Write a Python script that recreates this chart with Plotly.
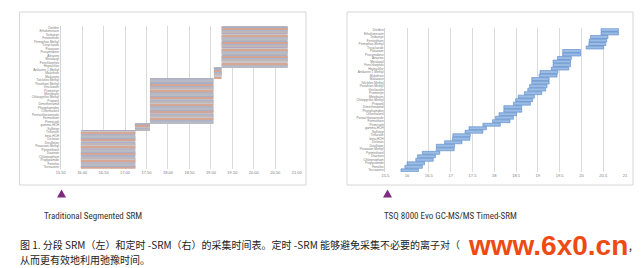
import plotly.graph_objects as go

W, H = 642, 268

compounds = ["Dieldrin", "Ethofumesate", "Terbutryn", "Fenitrothion", "Pirimiphos Methyl",
             "Tricyclazole", "Paraoxon", "Procymidone", "Atrazine", "Metalaxyl",
             "Fenchlorphos", "Heptachlor", "Anilazine 1 Methyl", "Malathion", "Malaoxon",
             "Tolclofos Methyl", "Parathion Methyl", "Vinclozolin", "Prometryn", "Metribuzin",
             "Chlorpyrifos Methyl", "Propanil", "Dimethenamid", "Phosphamidon", "Chlorthalonil",
             "Pentachloroanisole", "Formothion", "Pirimicarb", "gamma-HCH", "Sulfotep",
             "Trifluralin", "beta-HCH", "Dicloran", "Disulfoton", "Paraoxon Methyl",
             "Pyrimethanil", "Diazinon", "Chlorpropham", "Propyzamide", "Fonofos", "Tecnazene"]

# Traditional segmented SRM: acquisition window per compound (min)
seg_start = [19.25]*12 + [19.07]*3 + [17.58]*13 + [17.23]*2 + [15.97]*11
seg_end = [20.79]*12 + [19.25]*3 + [19.06]*13 + [17.58]*2 + [17.24]*11

# Timed-SRM: acquisition window per compound (min)
tsrm_start = [20.45, 20.45, 20.21, 20.18, 20.17, 20.11, 19.57, 19.57, 19.45, 19.35,
              19.35, 19.31, 19.05, 19.03, 18.86, 18.86, 18.81, 18.77, 18.69, 18.55,
              18.49, 18.44, 18.22, 18.22, 18.11, 18.03, 17.96, 17.74, 17.42, 17.33,
              17.05, 17.04, 16.86, 16.67, 16.67, 16.35, 16.24, 16.20, 16.00, 15.95, 15.86]
tsrm_end = [20.85, 20.85, 20.61, 20.58, 20.56, 20.51, 19.98, 19.98, 19.77, 19.75,
            19.75, 19.71, 19.46, 19.44, 19.26, 19.26, 19.21, 19.18, 19.09, 18.92,
            18.88, 18.83, 18.63, 18.63, 18.51, 18.44, 18.36, 18.14, 17.82, 17.74,
            17.45, 17.44, 17.26, 17.09, 17.08, 16.75, 16.65, 16.60, 16.40, 16.35, 16.26]

left_ticks = [15.5, 16.0, 16.5, 17.0, 17.5, 18.0, 18.5, 19.0, 19.5, 20.0, 20.5, 21.0]
left_ticktext = ["15.50", "16.00", "16.50", "17.00", "17.50", "18.00", "18.50",
                 "19.00", "19.50", "20.00", "20.50", "21.00"]
right_ticktext = ["15.5", "16", "16.5", "17", "17.5", "18", "18.5", "19", "19.5", "20", "20.5", "21"]

rows = list(range(len(compounds)))

stripe_palette = ["#b9b4bb", "#a9aec4", "#d4a595", "#c2bcc6", "#aab3cb", "#bfb6b8",
                  "#b3a9c2", "#c9c4c7", "#d6a894", "#a8b3cc", "#bbb3bf", "#b7bcc4"]


def px(x):
    return x / W


def py(y):
    return 1 - y / H


fig = go.Figure()

n_str = 3
for s in range(n_str):
    cols = [stripe_palette[(r * n_str + s) % len(stripe_palette)] for r in rows]
    fig.add_trace(go.Bar(
        y=rows, x=[e - b for b, e in zip(seg_start, seg_end)], base=seg_start,
        orientation="h", width=1.0 / n_str, offset=-0.5 + s / n_str,
        marker=dict(color=cols, line=dict(width=0)),
        xaxis="x", yaxis="y", showlegend=False, hoverinfo="skip"))

fig.add_trace(go.Bar(
    y=rows, x=[e - b for b, e in zip(tsrm_start, tsrm_end)], base=tsrm_start,
    orientation="h", width=0.85,
    marker=dict(color="#9bbce4", line=dict(color="#5284c6", width=0.6)),
    xaxis="x2", yaxis="y2", showlegend=False, hoverinfo="skip"))

common_x = dict(range=[15.5, 21], tickvals=left_ticks, showgrid=True, gridcolor="#dadada",
                gridwidth=1, zeroline=False, showline=False, ticks="",
                tickfont=dict(size=4, color="#7a7a7a", family="Liberation Sans"))
common_y = dict(range=[40.5, -0.5], tickvals=rows, ticktext=compounds, showgrid=False,
                zeroline=False, showline=True, linecolor="#d4d4d4", linewidth=1, ticks="",
                automargin=False,
                tickfont=dict(size=3.2, color="#7a7a7a", family="Liberation Sans"))

fig.update_layout(
    width=W, height=H, autosize=False,
    margin=dict(l=0, r=0, t=0, b=0),
    paper_bgcolor="white", plot_bgcolor="white",
    barmode="overlay",
    xaxis=dict(domain=[px(60.7), px(296.7)], anchor="y", ticktext=left_ticktext,
               automargin=False, **common_x),
    yaxis=dict(domain=[py(168.7), py(26)], anchor="x", **common_y),
    xaxis2=dict(domain=[px(385.3), px(625)], anchor="y2", ticktext=right_ticktext,
                automargin=False, **common_x),
    yaxis2=dict(domain=[py(172.1), py(28.2)], anchor="x2", **common_y),
)

shapes = []
for x0, x1 in [(19.5, 306), (347, 633)]:
    shapes.append(dict(type="rect", xref="paper", yref="paper",
                       x0=px(x0), x1=px(x1), y0=py(185), y1=py(12),
                       line=dict(color="#d6d6d6", width=1), fillcolor="rgba(0,0,0,0)", layer="below"))
for cx in [61.5, 387.5]:
    path = "M {} {} L {} {} L {} {} Z".format(px(cx - 4.5), py(197.5), px(cx + 4.5), py(197.5),
                                               px(cx), py(189.5))
    shapes.append(dict(type="path", xref="paper", yref="paper", path=path,
                       fillcolor="#7d2a7f", line=dict(width=0)))
fig.update_layout(shapes=shapes)

narrow = "Liberation Sans Narrow, Arial Narrow, Roboto Condensed, Roboto, sans-serif"
cjk = "Noto Sans CJK SC, sans-serif"
ann = [
    dict(x=px(42), y=py(215.5), text="Traditional Segmented SRM",
         font=dict(family=narrow, size=9, color="#333333")),
    dict(x=px(382), y=py(215.5), text="TSQ 8000 Evo GC-MS/MS Timed-SRM",
         font=dict(family=narrow, size=9, color="#333333")),
    dict(x=px(18), y=py(244), text="图 1. 分段 SRM（左）和定时 -SRM（右）的采集时间表。定时 -SRM 能够避免采集不必要的离子对（",
         font=dict(family=cjk, size=10, color="#222222")),
    dict(x=px(18), y=py(259), text="从而更有效地利用弛豫时间。",
         font=dict(family=cjk, size=10, color="#222222")),
    dict(x=px(626), y=py(246), text="，",
         font=dict(family=cjk, size=10, color="#222222")),
    dict(x=px(466), y=py(245), text="<b>www.6x0.cn</b>",
         font=dict(family="Liberation Sans, Arial, sans-serif", size=28, color="#ee4a14")),
]
for a in ann:
    a.update(xref="paper", yref="paper", xanchor="left", yanchor="middle", showarrow=False)
fig.update_layout(annotations=ann)

fig.write_html("out.html")
